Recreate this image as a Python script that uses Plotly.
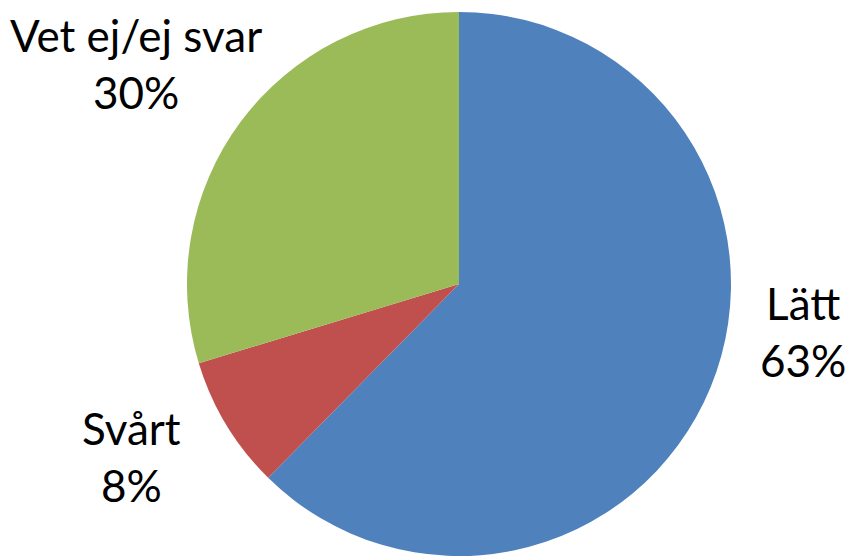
import plotly.graph_objects as go

labels = ["Lätt", "Svårt", "Vet ej/ej svar"]
values = [63, 8, 30]
colors = ["#4F81BD", "#C0504D", "#9BBB59"]

W, H = 865, 557
# plotly shifted the pie by about (+7, +8) px, so compensate
cx, cy, r = 451, 276, 272

fig = go.Figure()
fig.add_trace(go.Pie(
    labels=labels, values=values, sort=False, direction="clockwise", rotation=0,
    marker=dict(colors=colors, line=dict(width=0)),
    textinfo="none", hoverinfo="label+value", showlegend=False,
    domain=dict(x=[(cx - r) / W, (cx + r) / W], y=[(H - cy - r) / H, (H - cy + r) / H]),
))

# label positions (pixels, centre of text block)
label_pos = [(795, 323), (123, 448), (128, 55)]
for lab, val, (x, y) in zip(labels, values, label_pos):
    fig.add_annotation(
        x=x / W, y=1 - y / H, xref="paper", yref="paper",
        text=f"{lab}<br>{val}%", showarrow=False,
        font=dict(family="Lato", size=44, color="#000000"),
        align="center", xanchor="center", yanchor="middle",
    )

fig.update_layout(
    width=W, height=H, margin=dict(l=0, r=0, t=0, b=0),
    paper_bgcolor="white", plot_bgcolor="white",
)
fig.write_html("out.html")
